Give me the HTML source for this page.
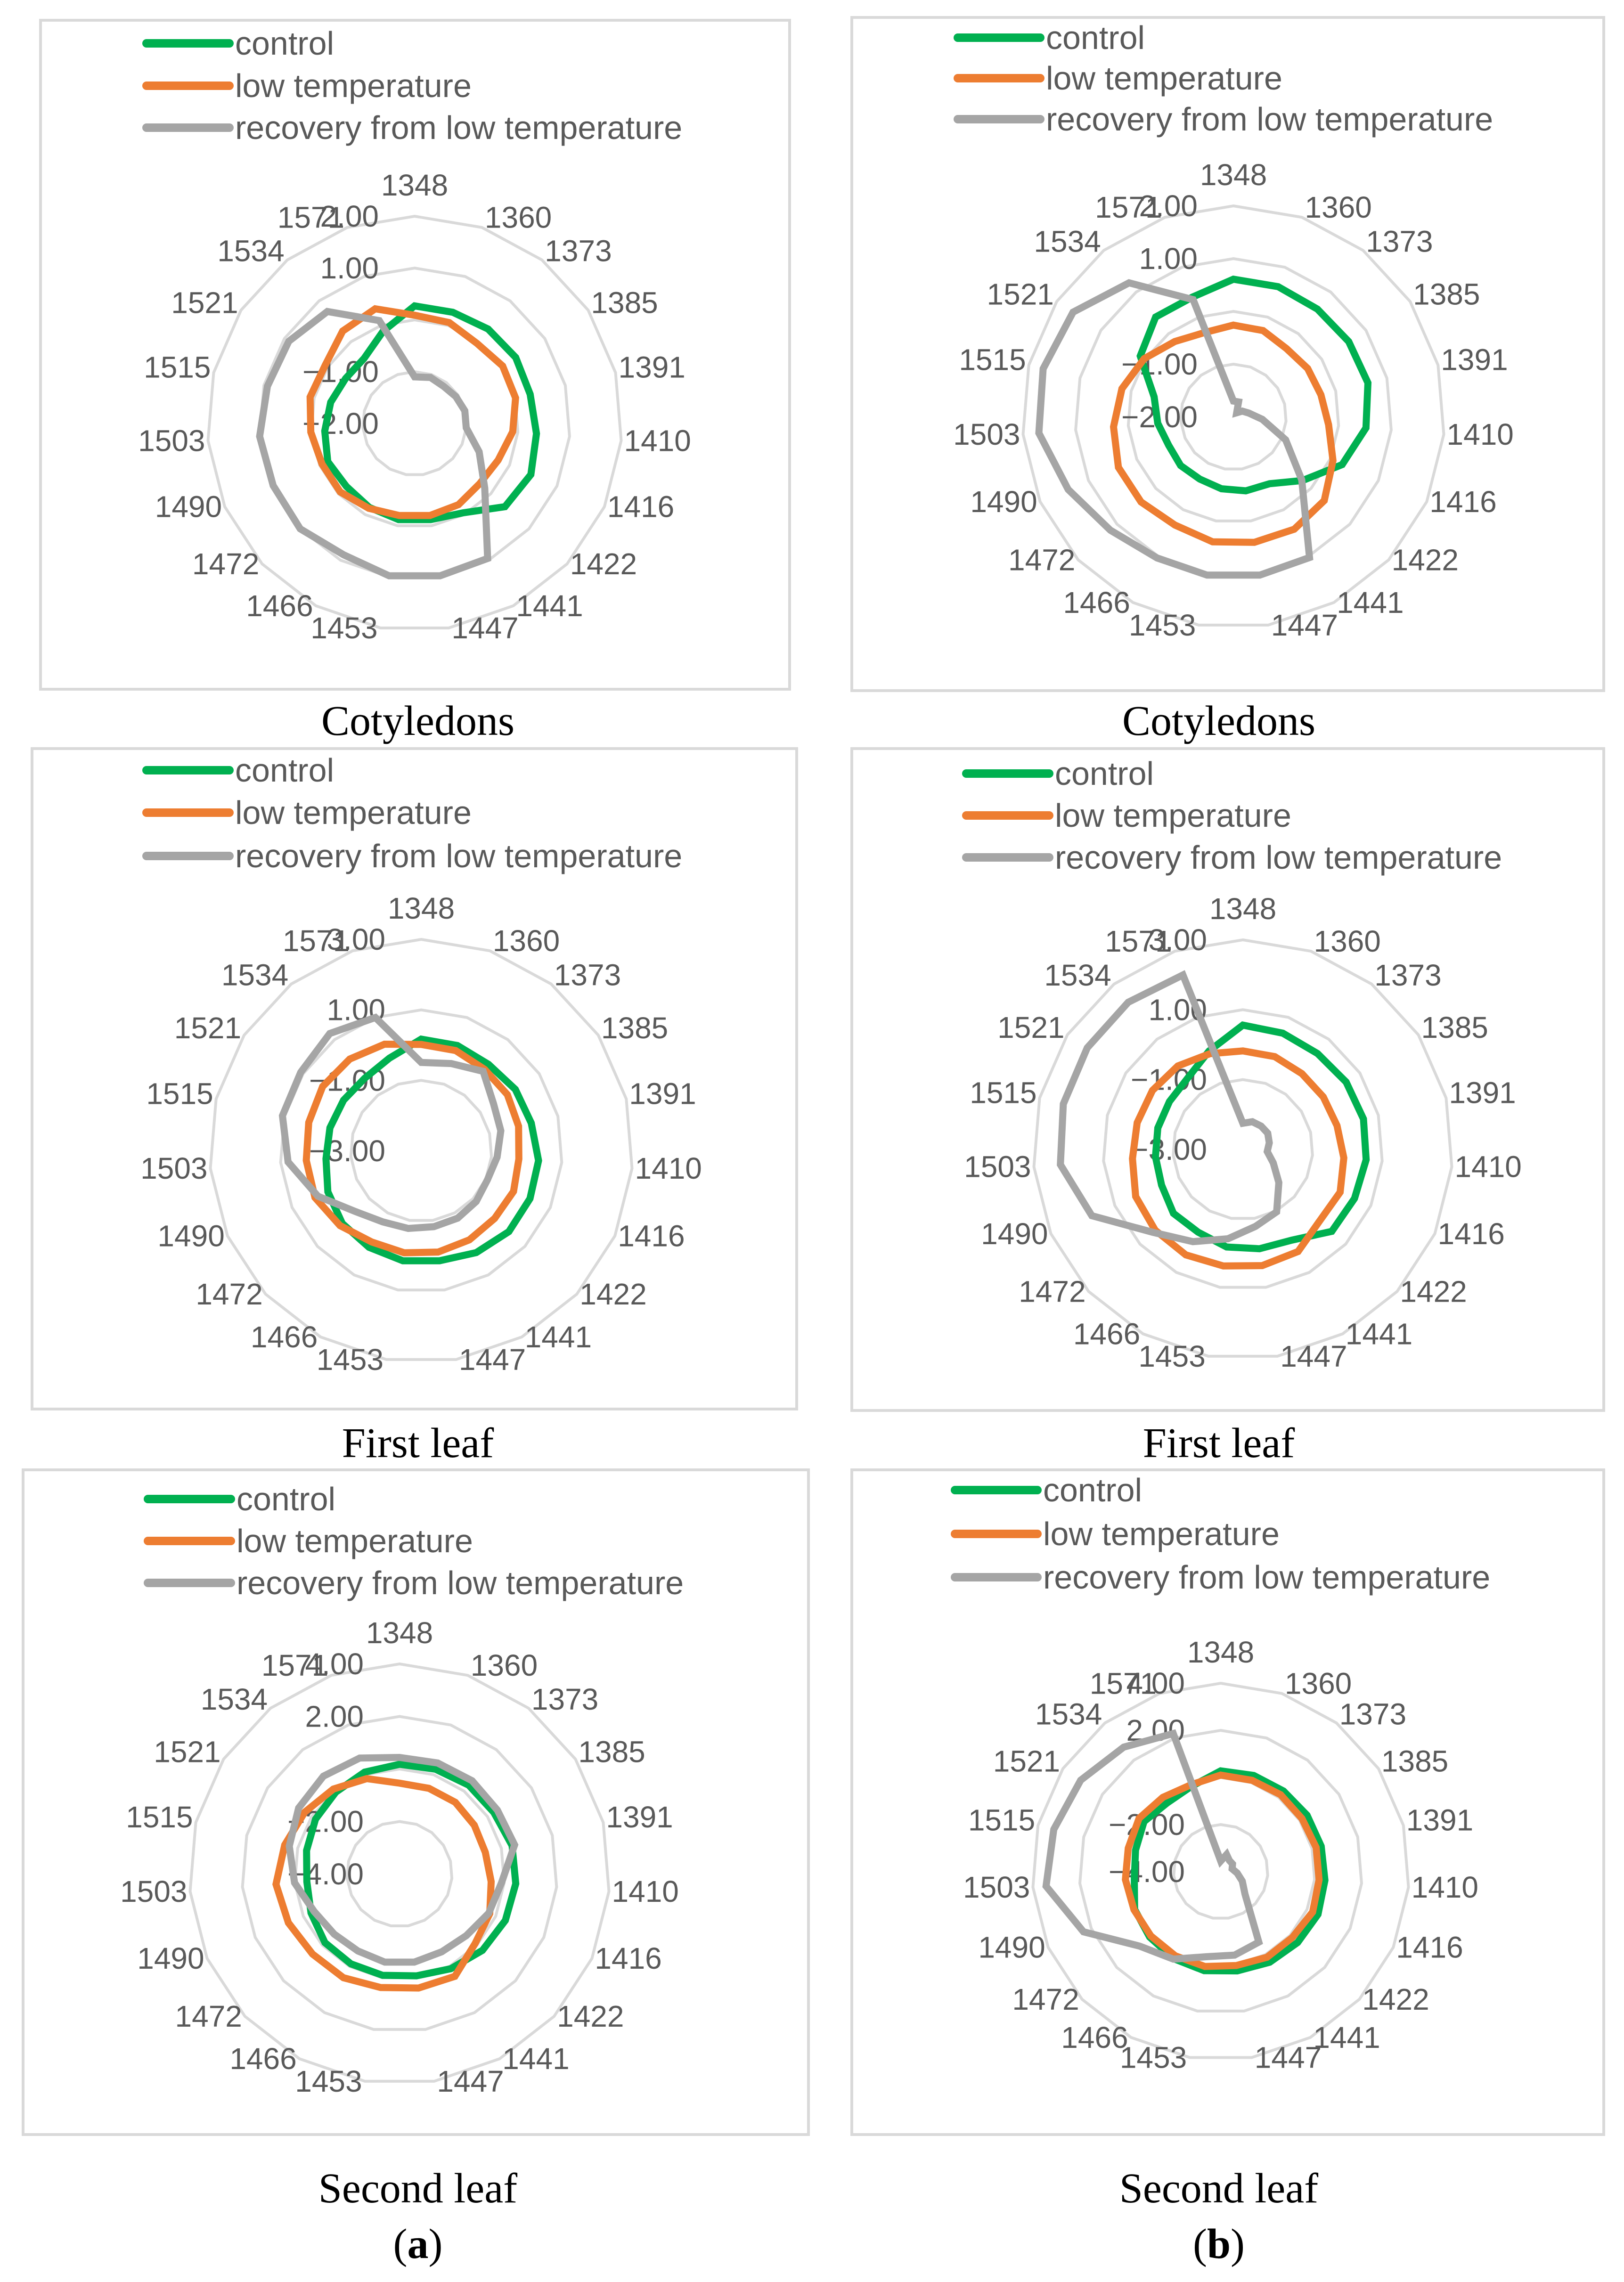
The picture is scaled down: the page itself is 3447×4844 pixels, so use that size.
<!DOCTYPE html>
<html><head><meta charset="utf-8">
<style>
html,body{margin:0;padding:0;background:#fff;}
svg{display:block;}
</style></head>
<body>
<svg id="fig" xmlns="http://www.w3.org/2000/svg" width="3447" height="4844" viewBox="0 0 3447 4844">
<rect x="0" y="0" width="3447" height="4844" fill="#fff"/>
<rect x="86" y="43" width="1590" height="1420" fill="none" stroke="#d9d9d9" stroke-width="6"/>
<rect x="1808" y="37" width="1596" height="1429" fill="none" stroke="#d9d9d9" stroke-width="6"/>
<rect x="68" y="1589" width="1623" height="1402" fill="none" stroke="#d9d9d9" stroke-width="6"/>
<rect x="1808" y="1589" width="1596" height="1405" fill="none" stroke="#d9d9d9" stroke-width="6"/>
<rect x="49" y="3120" width="1667" height="1411" fill="none" stroke="#d9d9d9" stroke-width="6"/>
<rect x="1808" y="3120" width="1596" height="1411" fill="none" stroke="#d9d9d9" stroke-width="6"/>
<g font-family="Liberation Serif, serif" font-size="90" fill="#000" text-anchor="middle">
<text x="887" y="1560">Cotyledons</text>
<text x="2587" y="1560">Cotyledons</text>
<text x="887" y="3093">First leaf</text>
<text x="2587" y="3093">First leaf</text>
<text x="887" y="4675">Second leaf</text>
<text x="2587" y="4675">Second leaf</text>
<text x="887" y="4793">(<tspan font-weight="bold">a</tspan>)</text>
<text x="2587" y="4793">(<tspan font-weight="bold">b</tspan>)</text>
</g>
<g id="charts"></g>
</svg>
<script>
const categories = ["1348","1360","1373","1385","1391","1410","1416","1422","1441","1447","1453","1466","1472","1490","1503","1515","1521","1534","1571"];
const seriesNames = ["control","low temperature","recovery from low temperature"];

const a1Control = [0.27,0.27,0.31,0.33,0.30,0.36,0.45,0.37,-0.04,-0.12,-0.12,-0.16,-0.21,-0.17,-0.26,-0.33,-0.41,-0.41,-0.12];
const a1Low = [0.09,0.06,-0.04,0.03,0.01,-0.10,-0.24,-0.29,-0.22,-0.20,-0.20,-0.14,-0.05,-0.05,0.01,0.08,0.06,0.26,0.34];
const a1Recovery = [-1.10,-1.06,-1.09,-1.05,-1.00,-1.00,-0.64,-0.16,0.96,0.98,0.98,0.88,1.00,0.98,1.00,0.93,0.90,0.74,0.10];
const a1Ticks = ["2.00","1.00","-1.00","-2.00"];
const a1TickValues = [2,1,-1,-2];
const a1Rings = [2,1,0,-1];

const b1Control = [0.61,0.61,0.59,0.61,0.63,0.52,0.25,-0.22,-0.56,-0.58,-0.62,-0.66,-0.64,-0.66,-0.56,-0.45,0.11,0.40,0.40];
const b1Low = [-0.26,-0.27,-0.36,-0.32,-0.29,-0.19,0.06,0.34,0.42,0.41,0.40,0.33,0.38,0.38,0.28,0.18,0.02,-0.19,-0.31];
const b1Recovery = [-1.70,-1.70,-1.90,-1.80,-1.70,-1.45,-0.92,-0.24,1.03,1.04,1.04,1.04,1.17,1.42,1.70,1.72,1.63,1.22,0.35];
const b1Ticks = ["2.00","1.00","-1.00","-2.00"];
const b1TickValues = [2,1,-1,-2];
const b1Rings = [2,1,0,-1];

const a2Control = [0.17,0.16,0.11,0.19,0.22,0.34,0.37,0.38,0.28,0.16,0.16,0.11,0.04,-0.11,-0.29,-0.33,-0.37,-0.39,-0.22];
const a2Low = [0.02,0.01,-0.07,-0.08,-0.15,-0.22,-0.14,-0.17,-0.13,-0.09,-0.07,-0.06,0.13,0.29,0.27,0.29,0.34,0.30,0.20];
const a2Recovery = [-0.49,-0.38,-0.14,-0.55,-0.67,-0.84,-0.95,-0.88,-0.83,-0.82,-0.77,-0.71,-0.46,0.20,0.79,1.06,1.08,1.22,1.00];
const a2Ticks = ["3.00","1.00","-1.00","-3.00"];
const a2TickValues = [3,1,-1,-3];
const a2Rings = [3,1,-1];

const b2Control = [0.56,0.52,0.48,0.53,0.56,0.54,0.49,0.46,-0.05,-0.12,-0.17,-0.31,-0.30,-0.46,-0.49,-0.49,-0.49,-0.42,-0.02];
const b2Low = [-0.18,-0.19,-0.25,-0.25,-0.22,-0.10,0.04,0.00,0.32,0.37,0.38,0.43,0.41,0.35,0.17,0.12,0.09,0.03,-0.10];
const b2Recovery = [-2.25,-2.16,-2.15,-2.15,-2.22,-2.30,-2.05,-1.60,-0.97,-0.77,-0.41,0.00,0.50,1.72,2.24,2.30,2.32,2.34,2.28];
const b2Ticks = ["3.00","1.00","-1.00","-3.00"];
const b2TickValues = [3,1,-1,-3];
const b2Rings = [3,1,-1];

const a3Control = [0.18,0.22,0.29,0.29,0.42,0.44,0.40,0.29,0.10,-0.07,-0.09,-0.11,-0.14,-0.32,-0.46,-0.35,-0.18,-0.05,0.10];
const a3Low = [-0.54,-0.55,-0.54,-0.60,-0.63,-0.50,-0.25,-0.09,0.43,0.40,0.38,0.49,0.50,0.62,0.72,0.51,0.31,0.10,-0.16];
const a3Recovery = [0.44,0.47,0.50,0.45,0.52,-0.10,-0.29,-0.54,-0.63,-0.60,-0.60,-0.67,-0.62,-0.45,0.01,0.33,0.59,0.72,0.67];
const a3Ticks = ["4.00","2.00","-2.00","-4.00"];
const a3TickValues = [4,2,-2,-4];
const a3Rings = [4,2,0,-2];

const b3Control = [0.28,0.32,0.34,0.38,0.40,0.44,0.51,0.44,0.37,0.27,0.26,0.20,0.10,-0.01,-0.32,-0.27,-0.11,-0.30,-0.17];
const b3Low = [0.10,0.10,0.14,0.12,0.18,0.19,0.26,0.13,0.13,0.04,0.08,0.06,0.03,0.02,0.06,0.05,0.14,0.00,-0.10];
const b3Recovery = [-3.55,-3.23,-3.40,-3.40,-3.50,-3.30,-3.00,-2.60,-0.60,-0.41,-0.34,0.22,0.67,2.36,3.44,3.31,3.10,2.70,2.20];
const b3Ticks = ["4.00","2.00","-2.00","-4.00"];
const b3TickValues = [4,2,-2,-4];
const b3Rings = [4,2,0,-2];

const NS = "http://www.w3.org/2000/svg";
const colors = ["#00b050","#ed7d31","#a5a5a5"];
const root = document.getElementById("charts");

function mk(tag, attrs, parent){
  const e = document.createElementNS(NS, tag);
  for (const k in attrs) e.setAttribute(k, attrs[k]);
  parent.appendChild(e);
  return e;
}

function drawChart(id, cfg, series, ticks, tickValues, rings){
  const g = mk("g", {}, root);
  
  
  const n = categories.length;
  const rad = v => Math.max(0, (v - cfg.min) / (cfg.max - cfg.min) * cfg.R);
  const pt = (i, r) => {
    const a = i * 2 * Math.PI / n;
    return [cfg.cx + r * Math.sin(a), cfg.cy - r * Math.cos(a)];
  };
  rings.forEach(v => {
    const r = rad(v);
    const pts = categories.map((c, i) => pt(i, r).map(x => x.toFixed(1)).join(",")).join(" ");
    const p = mk("polygon", {points: pts, fill: "none", stroke: "#d9d9d9", "stroke-width": 6}, g);
    
    
  });
  categories.forEach((c, i) => {
    const a = i * 2 * Math.PI / n;
    const s = Math.sin(a), co = Math.cos(a);
    const vx = cfg.cx + cfg.R * s, vy = cfg.cy - cfg.R * co;
    let anchor, x, y;
    if (Math.abs(s) < 0.05) { anchor = "middle"; x = vx; y = vy - 66; }
    else if (s > 0) { anchor = "start"; x = vx + 6; y = vy - (co > 0 ? 8 + 14 * co : 0); }
    else { anchor = "end"; x = vx - 6; y = vy - (co > 0 ? 8 + 14 * co : 0); }
    const t = mk("text", {x: x.toFixed(1), y: y.toFixed(1), "text-anchor": anchor, "dominant-baseline": "central",
      "font-family": "Liberation Sans, sans-serif", "font-size": 64, fill: "#595959"}, g);
    
    
    t.textContent = c;
  });
  ticks.forEach((lab, k) => {
    const y = cfg.cy - rad(tickValues[k]);
    const t = mk("text", {x: cfg.cx - 76, y: y.toFixed(1), "text-anchor": "end", "dominant-baseline": "central",
      "font-family": "Liberation Sans, sans-serif", "font-size": 64, fill: "#595959"}, g);
    
    
    t.textContent = lab.replace("-", "\u2212");
  });
  series.forEach((vals, s) => {
    const pts = vals.map((v, i) => pt(i, rad(v)).map(x => x.toFixed(1)).join(",")).join(" ");
    const p = mk("polygon", {points: pts, fill: "none", stroke: colors[s], "stroke-width": 15, "stroke-linejoin": "miter"}, g);
    
    
  });
  cfg.legY.forEach((ly, s) => {
    const l = mk("line", {x1: cfg.legX1, x2: cfg.legX2, y1: ly, y2: ly, stroke: colors[s], "stroke-width": 18, "stroke-linecap": "round"}, g);
    
    
    const t = mk("text", {x: cfg.legX2 + 12, y: ly, "dominant-baseline": "central",
      "font-family": "Liberation Sans, sans-serif", "font-size": 70, fill: "#595959"}, g);
    
    
    t.textContent = seriesNames[s];
  });
}

drawChart("a1", {cx:880, cy:899, R:440, min:-2, max:2, legX1:311, legX2:487, legY:[92,182,271]},
  [a1Control, a1Low, a1Recovery], a1Ticks, a1TickValues, a1Rings);
drawChart("b1", {cx:2618, cy:885, R:448, min:-2, max:2, legX1:2033, legX2:2208, legY:[80,166,253]},
  [b1Control, b1Low, b1Recovery], b1Ticks, b1TickValues, b1Rings);
drawChart("a2", {cx:894, cy:2443, R:449, min:-3, max:3, legX1:311, legX2:487, legY:[1635,1725,1817]},
  [a2Control, a2Low, a2Recovery], a2Ticks, a2TickValues, a2Rings);
drawChart("b2", {cx:2638, cy:2440, R:445, min:-3, max:3, legX1:2051, legX2:2227, legY:[1642,1731,1820]},
  [b2Control, b2Low, b2Recovery], b2Ticks, b2TickValues, b2Rings);
drawChart("a3", {cx:848, cy:3978, R:446, min:-4, max:4, legX1:314, legX2:490, legY:[3182,3271,3360]},
  [a3Control, a3Low, a3Recovery], a3Ticks, a3TickValues, a3Rings);
drawChart("b3", {cx:2591, cy:3973, R:400, min:-4, max:4, legX1:2027, legX2:2202, legY:[3163,3256,3348]},
  [b3Control, b3Low, b3Recovery], b3Ticks, b3TickValues, b3Rings);
</script>
</body></html>
